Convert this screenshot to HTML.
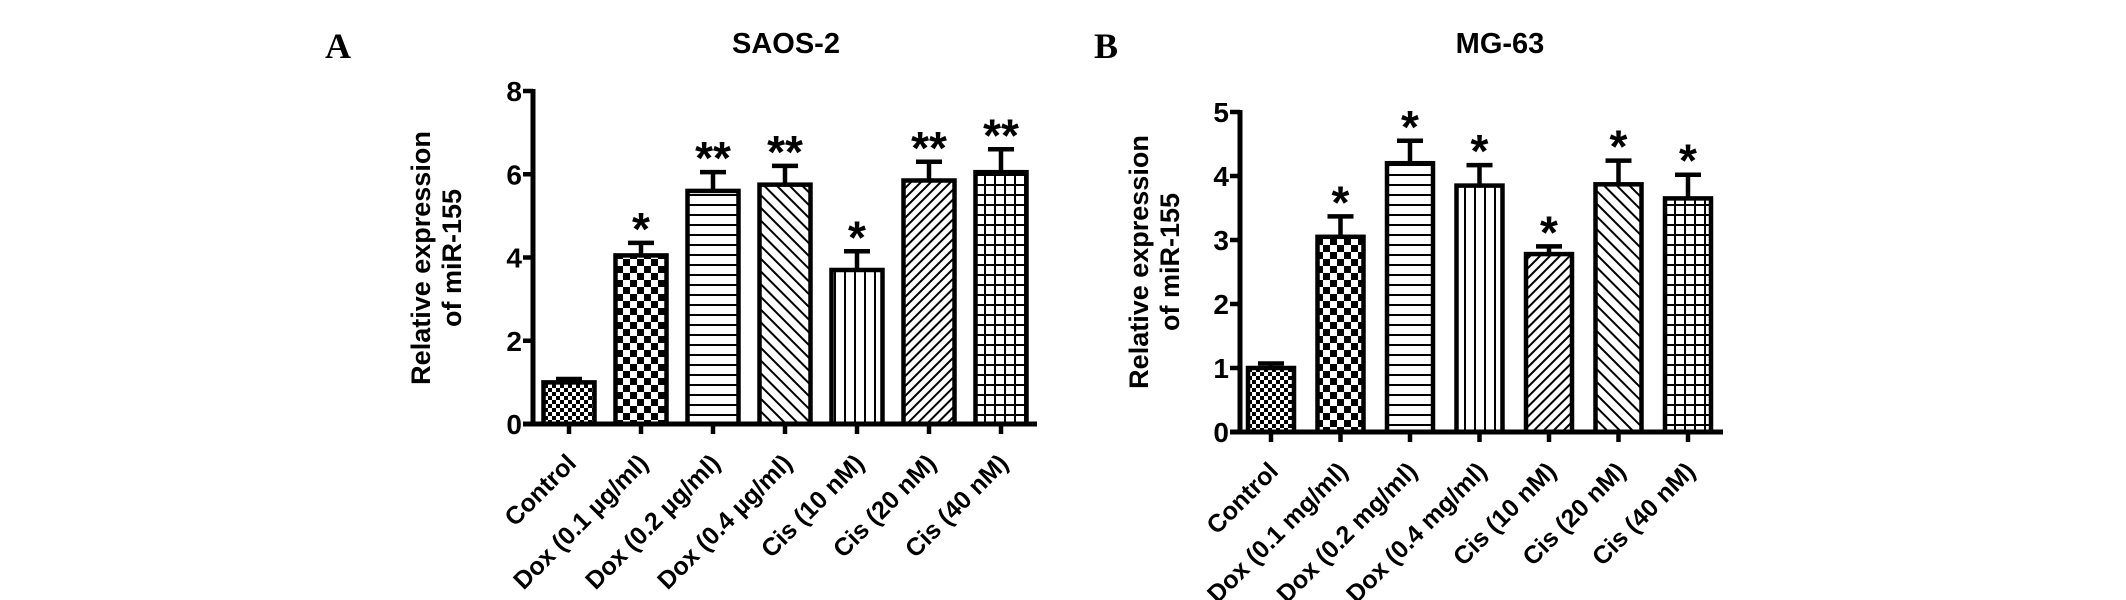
<!DOCTYPE html>
<html><head><meta charset="utf-8"><style>
html,body{margin:0;padding:0;background:#fff;}
svg{display:block;font-family:"Liberation Sans",Arial,sans-serif;}
</style></head><body>
<svg id="chart" width="2126" height="600" viewBox="0 0 2126 600" xmlns="http://www.w3.org/2000/svg">
<defs>
 <pattern id="pFine" width="8" height="8" patternUnits="userSpaceOnUse"><rect width="8" height="8" fill="#fff"/><rect width="4" height="4" fill="#000"/><rect x="4" y="4" width="4" height="4" fill="#000"/></pattern>
 <pattern id="pCheck" width="14" height="14" patternUnits="userSpaceOnUse"><rect width="14" height="14" fill="#fff"/><rect width="7" height="7" fill="#000"/><rect x="7" y="7" width="7" height="7" fill="#000"/></pattern>
 <pattern id="pHoriz" width="10" height="10" patternUnits="userSpaceOnUse"><rect width="10" height="10" fill="#fff"/><rect y="4" width="10" height="2" fill="#000"/></pattern>
 <pattern id="pVert" width="10" height="10" patternUnits="userSpaceOnUse"><rect width="10" height="10" fill="#fff"/><rect x="4" width="2" height="10" fill="#000"/></pattern>
 <pattern id="pBack" width="9" height="9" patternUnits="userSpaceOnUse" patternTransform="rotate(-45)"><rect width="9" height="9" fill="#fff"/><rect x="3" width="2" height="9" fill="#000"/></pattern>
 <pattern id="pFwd" width="7" height="7" patternUnits="userSpaceOnUse" patternTransform="rotate(45)"><rect width="7" height="7" fill="#fff"/><rect x="2" width="2" height="7" fill="#000"/></pattern>
 <pattern id="pGrid" width="10" height="10" patternUnits="userSpaceOnUse"><rect width="10" height="10" fill="#fff"/><rect y="4" width="10" height="2" fill="#000"/><rect x="4" width="2" height="10" fill="#000"/></pattern>
</defs>
<text x="338" y="58" font-family="Liberation Serif,serif" font-weight="bold" font-size="36" text-anchor="middle">A</text>
<text x="1106" y="58" font-family="Liberation Serif,serif" font-weight="bold" font-size="36" text-anchor="middle">B</text>
<g id="panelA"></g>
<g id="panelB"></g>
</svg>
<script>
const catsA = ["Control","Dox (0.1 \u00b5g/ml)","Dox (0.2 \u00b5g/ml)","Dox (0.4 \u00b5g/ml)","Cis (10 nM)","Cis (20 nM)","Cis (40 nM)"];
const valsA = [1.0, 4.05, 5.6, 5.75, 3.7, 5.85, 6.05];
const errsA = [0.08, 0.3, 0.45, 0.45, 0.45, 0.45, 0.55];
const starsA = ["", "*", "**", "**", "*", "**", "**"];
const ticksA = [0, 2, 4, 6, 8];
const fillsA = ["pFine","pCheck","pHoriz","pBack","pVert","pFwd","pGrid"];

const catsB = ["Control","Dox (0.1 mg/ml)","Dox (0.2 mg/ml)","Dox (0.4 mg/ml)","Cis (10 nM)","Cis (20 nM)","Cis (40 nM)"];
const valsB = [1.0, 3.05, 4.2, 3.85, 2.78, 3.87, 3.65];
const errsB = [0.07, 0.32, 0.35, 0.32, 0.12, 0.37, 0.37];
const starsB = ["", "*", "*", "*", "*", "*", "*"];
const ticksB = [0, 1, 2, 3, 4, 5];
const fillsB = ["pFine","pCheck","pHoriz","pVert","pFwd","pBack","pGrid"];

const NS = "http://www.w3.org/2000/svg";
function mk(parent, tag, attrs, txt){
  const e = document.createElementNS(NS, tag);
  for (const k in attrs) e.setAttribute(k, attrs[k]);
  if (txt !== undefined) e.textContent = txt;
  parent.appendChild(e);
  return e;
}

function drawPanel(g, cfg){
  const {cats, vals, errs, stars, ticks, fills, axisX, y0, yTop, ymax, x0, pitch, barW, xEnd, title, titleX, ylabX, ylabY} = cfg;
  const y = v => y0 - (v / ymax) * (y0 - yTop);
  const xc = i => x0 + i * pitch;

  const t = mk(g, "text", {x: titleX, y: 53, "font-size": 29, "font-weight": "bold", "text-anchor": "middle"}, title);
  
  

  const yl = mk(g, "text", {transform: `translate(${ylabX},${ylabY}) rotate(-90)`, "font-size": 27, "font-weight": "bold", "text-anchor": "middle"});
  
  
  mk(yl, "tspan", {x: 0, y: 0}, "Relative expression");
  mk(yl, "tspan", {x: 0, y: 31}, "of miR-155");

  vals.forEach((v, i) => {
    const cx = xc(i);
    const r = mk(g, "rect", {x: cx - barW/2, y: y(v), width: barW, height: y0 - y(v), fill: `url(#${fills[i]})`, stroke: "#000", "stroke-width": 4.5});
    
    
    const e = mk(g, "path", {d: `M${cx} ${y(v)}V${y(v + errs[i])}M${cx-13} ${y(v + errs[i])}H${cx+13}`, stroke: "#000", "stroke-width": 4.5, fill: "none"});
    
    
    if (stars[i]) {
      const s = mk(g, "text", {x: cx, y: y(v + errs[i]) + 2, "font-size": 46, "font-weight": "bold", "text-anchor": "middle"}, stars[i]);
      
      
    }
    const tk = mk(g, "line", {x1: cx, x2: cx, y1: y0, y2: y0 + 10, stroke: "#000", "stroke-width": 4.5});
    
    
    const lx = cx + 4, ly = y0 + 36;
    const lb = mk(g, "text", {transform: `translate(${lx},${ly}) rotate(-45)`, "font-size": 25, "font-weight": "bold", "text-anchor": "end", "dominant-baseline": "middle"}, cats[i]);
    
    
  });

  const ya = mk(g, "line", {x1: axisX, x2: axisX, y1: yTop - 2, y2: y0 + 2, stroke: "#000", "stroke-width": 5});
  
  
  const xa = mk(g, "line", {x1: axisX - 10, x2: xEnd, y1: y0, y2: y0, stroke: "#000", "stroke-width": 5});
  
  
  ticks.forEach(tv => {
    const ty = y(tv);
    const l = mk(g, "line", {x1: axisX - 10, x2: axisX, y1: ty, y2: ty, stroke: "#000", "stroke-width": 4.5});
    
    
    const tl = mk(g, "text", {x: axisX - 11, y: ty + 10, "font-size": 28, "font-weight": "bold", "text-anchor": "end"}, String(tv));
    
    
  });
}

drawPanel(document.getElementById("panelA"), {
  cats: catsA, vals: valsA, errs: errsA, stars: starsA, ticks: ticksA, fills: fillsA,
  axisX: 533, y0: 424, yTop: 91, ymax: 8, x0: 569, pitch: 72, barW: 51, xEnd: 1037,
  title: "SAOS-2", titleX: 786, ylabX: 430, ylabY: 258
});
drawPanel(document.getElementById("panelB"), {
  cats: catsB, vals: valsB, errs: errsB, stars: starsB, ticks: ticksB, fills: fillsB,
  axisX: 1240, y0: 432, yTop: 112, ymax: 5, x0: 1271, pitch: 69.5, barW: 46, xEnd: 1723,
  title: "MG-63", titleX: 1500, ylabX: 1148, ylabY: 262
});
</script>
</body></html>
